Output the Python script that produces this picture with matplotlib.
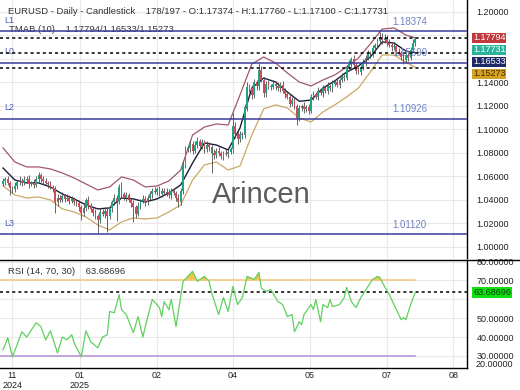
import numpy as np
import matplotlib
matplotlib.use('Agg')
import matplotlib.pyplot as plt
from matplotlib.lines import Line2D
from matplotlib.transforms import IdentityTransform

plt.rcParams['font.family'] = ['Liberation Sans', 'DejaVu Sans']
plt.rcParams['font.size'] = 6.5

# cierres diarios
closes = [1.0560, 1.0575, 1.0545, 1.0500, 1.0490, 1.0520, 1.0550, 1.0565, 1.0545, 1.0570,
          1.0580, 1.0535, 1.0545, 1.0530, 1.0575, 1.0610, 1.0580, 1.0560, 1.0545, 1.0535,
          1.0510, 1.0495, 1.0380, 1.0420, 1.0400, 1.0435, 1.0410, 1.0420, 1.0395, 1.0405,
          1.0385, 1.0370, 1.0340, 1.0290, 1.0330, 1.0400, 1.0350, 1.0320, 1.0290, 1.0260,
          1.0230, 1.0300, 1.0280, 1.0310, 1.0260, 1.0330, 1.0380, 1.0420, 1.0395, 1.0510,
          1.0450, 1.0420, 1.0440, 1.0400, 1.0370, 1.0340, 1.0280, 1.0350, 1.0390, 1.0410,
          1.0380, 1.0420, 1.0450, 1.0480, 1.0470, 1.0490, 1.0455, 1.0480, 1.0460, 1.0470,
          1.0440, 1.0475, 1.0460, 1.0420, 1.0380, 1.0480, 1.0700, 1.0830, 1.0840, 1.0880,
          1.0820, 1.0870, 1.0900, 1.0860, 1.0890, 1.0830, 1.0870, 1.0850, 1.0800, 1.0780,
          1.0820, 1.0800, 1.0770, 1.0800, 1.0790, 1.0810, 1.0830, 1.1030, 1.0960, 1.0920,
          1.0960, 1.0950, 1.1190, 1.1360, 1.1350, 1.1290, 1.1400, 1.1370, 1.1510, 1.1420,
          1.1310, 1.1390, 1.1365, 1.1365, 1.1390, 1.1370, 1.1350, 1.1380, 1.1330, 1.1300,
          1.1280, 1.1220, 1.1250, 1.1200, 1.1100, 1.1180, 1.1200, 1.1170, 1.1190, 1.1160,
          1.1280, 1.1300, 1.1280, 1.1330, 1.1310, 1.1350, 1.1330, 1.1370, 1.1350, 1.1390,
          1.1400, 1.1380, 1.1420, 1.1450, 1.1440, 1.1520, 1.1560, 1.1600, 1.1550, 1.1500,
          1.1490, 1.1530, 1.1570, 1.1610, 1.1650, 1.1640, 1.1690, 1.1720, 1.1750, 1.1790,
          1.1760, 1.1780, 1.1740, 1.1720, 1.1700, 1.1710, 1.1660, 1.1650, 1.1620, 1.1590,
          1.1630, 1.1610, 1.1680, 1.17374, 1.17731]
first_open = 1.0540

# mechas en milesimas
wick_up = [3, 2, 3, 2, 2, 3, 2, 4, 2, 3, 2, 3, 2, 3, 3, 3, 2, 2, 3, 2, 3, 2, 2, 3, 2,
           3, 2, 3, 2, 3, 2, 2, 3, 2, 4, 2, 3, 2, 2, 3, 2, 3, 2, 3, 2, 3, 2, 3, 2, 3,
           4, 2, 3, 2, 2, 3, 2, 3, 2, 3, 2, 2, 3, 2, 3, 2, 3, 2, 2, 3, 2, 3, 2, 2, 3,
           2, 3, 3, 2, 3, 2, 3, 4, 2, 3, 2, 3, 2, 2, 3, 2, 3, 2, 2, 3, 2, 2, 11, 3, 3,
           3, 2, 3, 4, 3, 3, 3, 2, 6, 3, 3, 2, 3, 2, 3, 2, 3, 2, 3, 2, 3, 2, 3, 3, 2,
           3, 2, 3, 2, 3, 2, 3, 2, 3, 2, 3, 2, 3, 2, 3, 2, 3, 2, 3, 2, 3, 3, 2, 3, 2,
           3, 2, 3, 2, 3, 2, 3, 2, 3, 4, 3, 3, 2, 3, 2, 3, 2, 3, 2, 3, 2, 3, 2, 3, 0.3]
wick_dn = [2, 3, 2, 6, 3, 2, 3, 2, 3, 2, 2, 3, 2, 3, 2, 2, 3, 2, 2, 3, 2, 3, 9, 3, 2,
           2, 3, 2, 3, 2, 3, 2, 3, 6, 3, 2, 3, 2, 3, 2, 11, 3, 2, 3, 13, 2, 3, 2, 17, 3,
           3, 2, 3, 2, 3, 13, 3, 2, 3, 2, 3, 2, 2, 3, 2, 3, 2, 3, 2, 3, 2, 3, 2, 3, 4,
           2, 3, 3, 2, 3, 3, 2, 3, 2, 3, 3, 2, 3, 17, 3, 2, 3, 2, 3, 2, 3, 2, 3, 3, 4,
           3, 3, 2, 3, 3, 3, 2, 3, 3, 2, 3, 3, 2, 3, 2, 3, 2, 3, 2, 3, 2, 3, 2, 3, 6,
           3, 2, 3, 2, 3, 2, 3, 2, 3, 2, 3, 2, 3, 2, 3, 2, 2, 3, 2, 3, 2, 2, 3, 2, 3,
           2, 3, 2, 3, 2, 3, 2, 3, 2, 2, 3, 2, 3, 2, 3, 2, 3, 2, 3, 3, 2, 3, 2, 2, 2.7]

# bandas TMA (10), leidas cada 5 velas
band_idx = list(range(0, 175, 5)) + [174]
tma_upper = [1.0843, 1.0723, 1.0681, 1.0681, 1.0664, 1.0630, 1.0587, 1.0536, 1.0485, 1.0511,
             1.0596, 1.0570, 1.0511, 1.0519, 1.0562, 1.0655, 1.0953, 1.1021, 1.1047, 1.1038,
             1.1294, 1.1557, 1.1617, 1.1566, 1.1481, 1.1404, 1.1370, 1.1421, 1.1464, 1.1532,
             1.1609, 1.1728, 1.1855, 1.1864, 1.1804, 1.17794]
tma_mid = [1.0672, 1.0570, 1.0545, 1.0545, 1.0511, 1.0451, 1.0409, 1.0358, 1.0324, 1.0332,
           1.0417, 1.0409, 1.0383, 1.0409, 1.0460, 1.0528, 1.0715, 1.0885, 1.0868, 1.0826,
           1.1013, 1.1353, 1.1438, 1.1404, 1.1319, 1.1240, 1.1250, 1.1353, 1.1413, 1.1489,
           1.1540, 1.1617, 1.1745, 1.1736, 1.1668, 1.16533]
tma_lower = [1.0519, 1.0443, 1.0417, 1.0426, 1.0400, 1.0324, 1.0298, 1.0255, 1.0187, 1.0145,
             1.0213, 1.0247, 1.0238, 1.0247, 1.0298, 1.0358, 1.0570, 1.0698, 1.0723, 1.0655,
             1.0689, 1.0953, 1.1175, 1.1209, 1.1183, 1.1098, 1.1064, 1.1149, 1.1209, 1.1277,
             1.1353, 1.1489, 1.1634, 1.1634, 1.1574, 1.15273]

# RSI (14)
rsi_idx = [0, 2, 4, 8, 10, 14, 16, 18, 20, 23, 25, 27, 29, 30, 33, 35, 37, 40, 42, 44,
           45, 47, 49, 50, 52, 55, 57, 59, 61, 63, 66, 67, 68, 70, 71, 73, 76, 78, 80, 82,
           85, 87, 88, 91, 93, 95, 97, 99, 101, 103, 106, 108, 109, 111, 113, 116, 118, 120, 122, 123,
           125, 126, 127, 130, 131, 132, 134, 135, 137, 138, 139, 142, 144, 145, 147, 149, 151, 154, 156, 158,
           159, 161, 163, 165, 168, 169, 170, 172, 174]
rsi_val = [33.2, 39.6, 29.5, 42.8, 40.0, 47.6, 45.5, 38.5, 43.3, 31.6, 40.0, 38.5, 41.2, 37.0, 29.5, 43.3, 37.5, 34.3, 40.0, 41.2,
           53.5, 52.9, 62.5, 54.5, 51.9, 42.3, 50.8, 40.0, 50.3, 59.9, 55.6, 50.8, 58.8, 54.5, 59.9, 45.5, 69.5, 72.1, 74.8, 69.5,
           72.1, 69.5, 63.6, 51.9, 60.9, 53.5, 66.8, 57.2, 60.9, 72.1, 70.5, 74.3, 66.0, 64.1, 65.2, 58.8, 57.2, 50.8, 51.9, 42.8,
           48.1, 46.5, 51.9, 57.2, 54.5, 59.9, 48.1, 57.2, 55.6, 59.9, 56.1, 57.2, 60.9, 66.3, 58.8, 55.6, 60.9, 66.8, 70.5, 72.1,
           71.6, 66.8, 62.5, 57.2, 49.2, 50.3, 49.2, 57.2, 63.68696]

level_names = ['L1', 'L0', 'L2', 'L3']
level_vals = [1.18374, 1.15699, 1.10926, 1.01120]

tick_pos = [4, 32.5, 65, 97, 129.5, 162, 190]
tick_lab = ['11\n2024', '01\n2025', '02', '04', '05', '07', '08']

W, H = 520, 390
fig = plt.figure(figsize=(W / 100, H / 100), dpi=100)
ax = fig.add_axes([0, 1 - 258 / H, 467 / W, 258 / H])
ar = fig.add_axes([0, 1 - 368 / H, 467 / W, 108 / H])

grid_c = '#e8e8e8'
for a in (ax, ar):
    a.set_xlim(-1.27, 195.8)
    a.set_xticks(tick_pos)
    a.grid(color=grid_c, lw=0.8)
    a.set_axisbelow(True)
    a.yaxis.tick_right()
    a.tick_params(axis='y', length=0, pad=7, labelsize=6.5, colors='#222222')
    a.spines['left'].set_visible(False)
    a.spines['right'].set_color('black')
    a.spines['right'].set_linewidth(1)

# panel de precio (las etiquetas 1.18 y 1.16 quedan tapadas por las marcas)
ax.set_ylim(0.9906, 1.2102)
yt = np.round(np.arange(1.0, 1.2001, 0.02), 2)
ax.set_yticks(yt)
ax.set_yticklabels(['' if v in (1.16, 1.18) else '%.5f' % v for v in yt])
ax.tick_params(axis='x', length=0, labelbottom=False)
ax.spines['top'].set_visible(False)
ax.spines['bottom'].set_visible(False)

c = np.array(closes)
o = np.array([first_open] + closes[:-1])
x = np.arange(len(c))
hi = np.maximum(o, c) + np.array(wick_up) / 1000
lo = np.minimum(o, c) - np.array(wick_dn) / 1000
up = c >= o
body_col = np.where(up, '#1fa382', '#d24a57')
ax.vlines(x, lo, hi, color='#4d4d4d', lw=0.6, zorder=3)
ax.bar(x, np.maximum(np.abs(c - o), 0.0005), bottom=np.minimum(o, c), width=0.75,
       color=body_col, linewidth=0, zorder=4)

ax.plot(band_idx, tma_upper, color='#a0586a', lw=0.9, zorder=2)
ax.plot(band_idx, tma_mid, color='#1d1d3a', lw=1.0, zorder=2)
ax.plot(band_idx, tma_lower, color='#c9a865', lw=0.9, zorder=2)

for v in (tma_upper[-1], tma_mid[-1], tma_lower[-1]):
    ax.axhline(v, color='black', lw=1.1, ls=(0, (2, 2)), zorder=5)

for name, v in zip(level_names, level_vals):
    ax.axhline(v, color='#3a3a9c', lw=1.1, zorder=5)
    ax.annotate(name, (0.01, v), xycoords=('axes fraction', 'data'), xytext=(0, 4.5),
                textcoords='offset points', color='#4a5cb0', fontsize=6.5, va='bottom')
    ax.annotate('%.5f' % v, (0.839, v), xycoords=('axes fraction', 'data'), xytext=(0, 3),
                textcoords='offset points', color='#6e80c4', fontsize=7, va='bottom')

ax.text(0.017, 0.9535, 'EURUSD - Daily - Candlestick    178/197 - O:1.17374 - H:1.17760 - L:1.17100 - C:1.17731',
        transform=ax.transAxes, va='center', color='#333333', fontsize=6.8)
ax.text(0.019, 0.884, 'TMAB (10)    1.17794/1.16533/1.15273', transform=ax.transAxes,
        va='center', color='#333333', fontsize=6.8)
ax.text(0.559, 0.244, 'Arincen', transform=ax.transAxes, ha='center', va='center',
        color='#5c5c5c', fontsize=21, zorder=1)

# panel RSI
ar.set_ylim(23.6, 80.8)
rt = [30, 40, 50, 60, 70, 80]
ar.set_yticks(rt)
ar.set_yticklabels(['' if v == 60 else '%.5f' % v for v in rt])
ar.set_xticklabels(tick_lab, fontsize=6.5, linespacing=1.05)
ar.tick_params(axis='x', length=0, pad=2.5, colors='#222222')
for s in ('top', 'bottom', 'right'):
    ar.spines[s].set_color('black')
    ar.spines[s].set_linewidth(1)
ar.text(476 / 467, 0.03, '20.00000', transform=ar.transAxes, va='center', fontsize=6.5, color='#222222')

ar.plot([-1.27, 174], [70, 70], color='#f5c877', lw=1.1)
ar.plot([-1.27, 174], [30, 30], color='#b792d8', lw=1.1)
ar.axhline(rsi_val[-1], color='black', lw=1.1, ls=(0, (2, 2)))
rv = np.array(rsi_val)
ar.fill_between(rsi_idx, 70, rv, where=rv > 70, interpolate=True, color='#f2c14e', lw=0)
ar.plot(rsi_idx, rsi_val, color='#5fd05f', lw=0.9)
ar.text(0.017, 0.889, 'RSI (14, 70, 30)    %.5f' % rsi_val[-1], transform=ar.transAxes,
        va='center', color='#333333', fontsize=6.8)

fig.add_artist(Line2D([467 / W, 1], [1 - 260 / H] * 2, color='black', lw=1, transform=fig.transFigure))


# etiquetas de valor en el eje derecho, apiladas
def tags(a, vals, bgs, fgs):
    prev = None
    for v, bg, fg in zip(vals, bgs, fgs):
        yd = a.transData.transform((0, v))[1]
        if prev is not None and yd > prev - 12:
            yd = prev - 12
        prev = yd
        fig.text(473, yd, '%.5f' % v, transform=IdentityTransform(), va='center', ha='left',
                 color=fg, fontsize=6.5, zorder=10,
                 bbox=dict(boxstyle='square,pad=0.08', fc=bg, ec='none'))


tags(ax, [tma_upper[-1], closes[-1], tma_mid[-1], tma_lower[-1]],
     ['#c0393b', '#2ab39b', '#1e2a66', '#d4a326'],
     ['white', 'white', 'white', '#4a2a00'])
tags(ar, [rsi_val[-1]], ['#12e012'], ['#0a3a0a'])

fig.savefig('out.png', dpi=100)
